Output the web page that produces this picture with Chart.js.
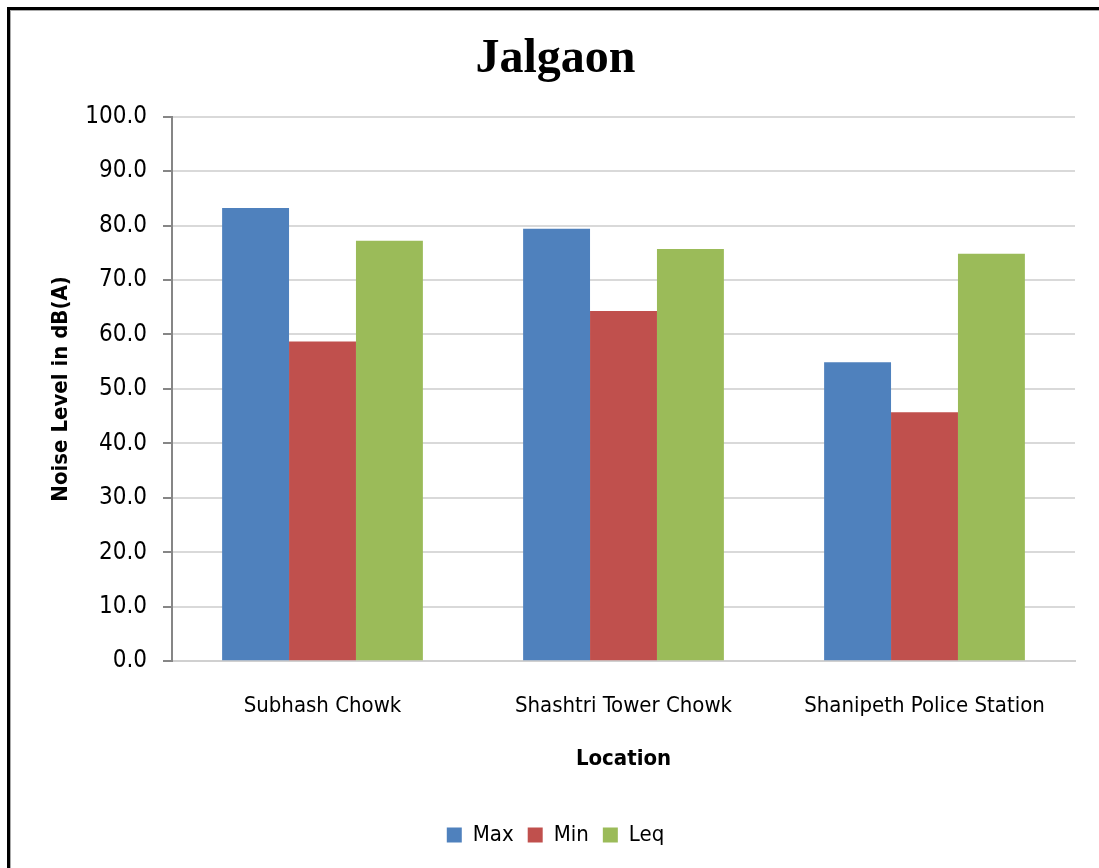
<!DOCTYPE html>
<html>
<head>
<meta charset="utf-8">
<script src="https://cdn.jsdelivr.net/npm/chart.js@4.4.1/dist/chart.umd.min.js"></script>
<style>
  html, body { margin: 0; padding: 0; background: #fff; overflow: hidden; }
  #wrap { position: absolute; left: 0; top: 0; width: 1099px; height: 868px; }
  #frame {
    position: absolute; left: 7px; top: 7px; width: 1110px; height: 880px;
    border: 3px solid #000; box-shadow: inset 1px 1px 0 #aaa; pointer-events: none;
  }
</style>
</head>
<body>
<div id="wrap">
  <canvas id="chart" width="1099" height="868"></canvas>
  <div id="frame"></div>
</div>
<script>
var locations = ["Subhash Chowk", "Shashtri Tower Chowk", "Shanipeth Police Station"];
var maxLevel = [83.2, 79.4, 54.9];
var minLevel = [58.7, 64.3, 45.7];
var leqLevel = [77.2, 75.7, 74.8];

var narrow = "'Liberation Sans Narrow', 'DejaVu Sans Condensed', 'Roboto Condensed', sans-serif";

Chart.defaults.color = '#000';
Chart.defaults.font.family = narrow;

var ctx = document.getElementById('chart').getContext('2d');
var chart = new Chart(ctx, {
    type: 'bar',
    data: {
        labels: locations,
        datasets: [
            { label: 'Max', data: maxLevel, backgroundColor: '#4F81BD' },
            { label: 'Min', data: minLevel, backgroundColor: '#C0504D' },
            { label: 'Leq', data: leqLevel, backgroundColor: '#9BBB59' }
        ]
    },
    options: {
        responsive: false,
        animation: false,
        layout: { padding: { left: 36, right: 24, top: 12, bottom: 12 } },
        datasets: {
            bar: { categoryPercentage: 0.667, barPercentage: 1.0, borderWidth: 0 }
        },
        plugins: {
            title: {
                display: true,
                text: 'Jalgaon',
                font: { family: "'Liberation Serif', 'Times New Roman', serif", size: 48, weight: 'bold' },
                padding: { top: 19, bottom: 28 }
            },
            legend: {
                position: 'bottom',
                labels: {
                    boxWidth: 15, boxHeight: 15, padding: 14,
                    font: { size: 22 }
                }
            },
            tooltip: { enabled: false }
        },
        scales: {
            x: {
                grid: { display: false },
                border: { color: '#d0d0d0', width: 2 },
                ticks: { font: { size: 22 }, padding: 24 },
                title: {
                    display: true, text: 'Location',
                    font: { size: 22, weight: 'bold' },
                    padding: { top: 2, bottom: 38 }
                }
            },
            y: {
                min: 0, max: 100,
                afterFit: function (s) { s.width = 136; },
                grid: { color: '#d9d9d9', lineWidth: 2, tickColor: '#868686', tickLength: 9 },
                border: { color: '#868686', width: 2 },
                ticks: {
                    stepSize: 10, padding: 16, font: { size: 24 },
                    callback: function (v) { return v.toFixed(1); }
                },
                title: {
                    display: true, text: 'Noise Level in dB(A)',
                    font: { size: 22, weight: 'bold' },
                    padding: { top: 12, bottom: 10 }
                }
            }
        }
    }
});
</script>
</body>
</html>
